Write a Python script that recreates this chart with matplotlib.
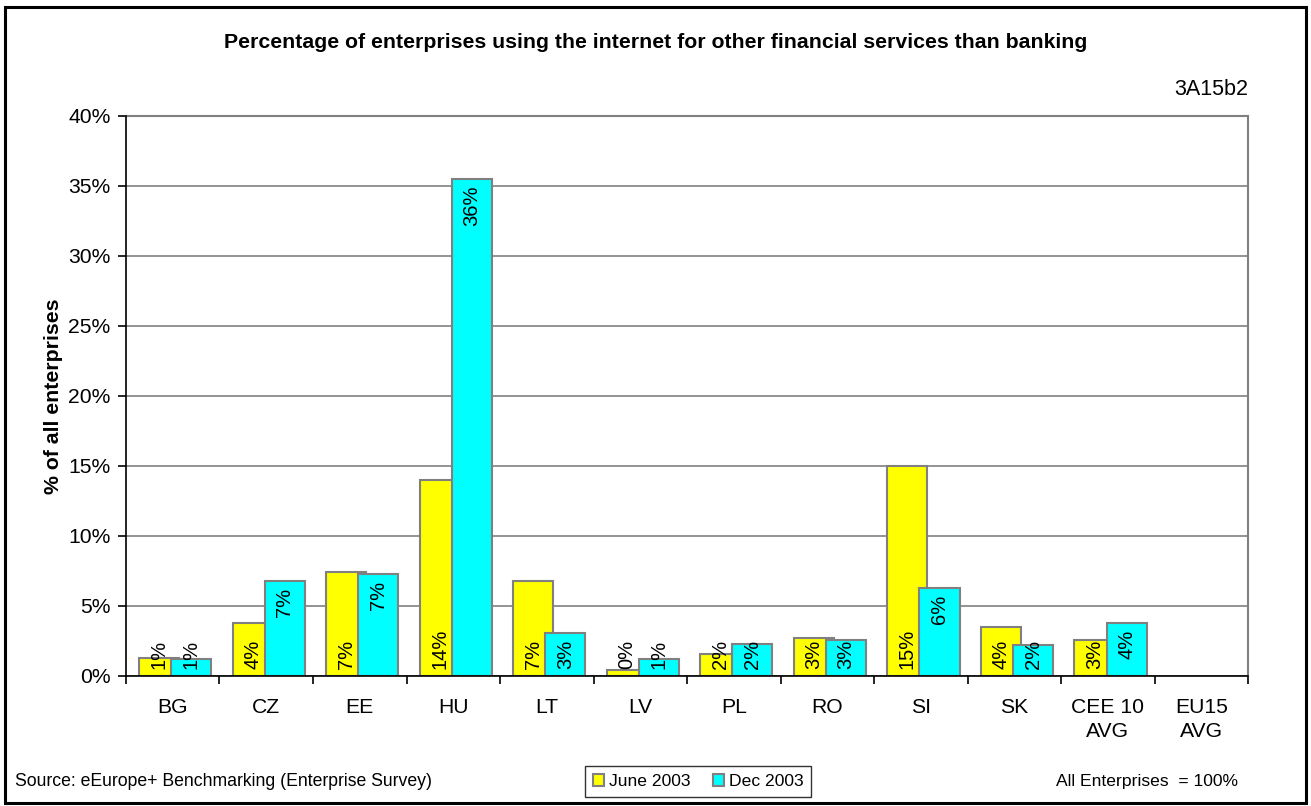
import numpy as np
import matplotlib.pyplot as plt
from matplotlib.patches import Rectangle

plt.rcParams['font.family'] = ['Liberation Sans', 'DejaVu Sans']

# ---------- datos ----------
paises = ['BG', 'CZ', 'EE', 'HU', 'LT', 'LV', 'PL', 'RO', 'SI', 'SK',
          'CEE 10\nAVG', 'EU15\nAVG']
junio_2003 = [1.3, 3.8, 7.4, 14.0, 6.8, 0.4, 1.6, 2.7, 15.0, 3.5, 2.6, np.nan]
dic_2003 = [1.2, 6.8, 7.3, 35.5, 3.1, 1.2, 2.3, 2.55, 6.3, 2.2, 3.8, np.nan]
y_ticks = [0, 5, 10, 15, 20, 25, 30, 35, 40]

amarillo = '#ffff00'
cian = '#00ffff'
gris = '#808080'

# ---------- figura ----------
fig = plt.figure(figsize=(13.11, 8.06), dpi=100)
ax = fig.add_axes([0.0961, 0.1613, 0.8559, 0.6948])

x = np.arange(len(paises))
ancho = 0.428
b1 = ax.bar(x - 0.145, junio_2003, ancho, color=amarillo, edgecolor=gris,
            linewidth=1.5, zorder=3, label='June 2003')
b2 = ax.bar(x + 0.20, dic_2003, ancho, color=cian, edgecolor=gris,
            linewidth=1.5, zorder=4, label='Dec 2003')

ax.set_xlim(-0.5, len(paises) - 0.5)
ax.set_ylim(0, 40)
ax.set_yticks(y_ticks)
ax.set_yticklabels([f'{t}%' for t in y_ticks], fontsize=15.2)
ax.yaxis.grid(True, color=gris, linewidth=1.2, zorder=0)

# ticks del eje x entre categorias, etiquetas en el centro
ax.set_xticks(np.arange(len(paises) + 1) - 0.5)
ax.set_xticklabels([])
ax.set_xticks(x, minor=True)
ax.set_xticklabels(paises, minor=True, fontsize=15.2, linespacing=1.3)
ax.tick_params(axis='x', which='minor', length=0, pad=16)
ax.tick_params(axis='x', which='major', length=6, width=1.2, direction='out')
ax.tick_params(axis='y', length=6, width=1.2, direction='out', pad=5)

for lado in ['top', 'right']:
    ax.spines[lado].set_color(gris)
    ax.spines[lado].set_linewidth(1.5)
for lado in ['left', 'bottom']:
    ax.spines[lado].set_color('black')
    ax.spines[lado].set_linewidth(1.2)
    ax.spines[lado].set_zorder(5)

ax.set_ylabel('% of all enterprises', fontsize=15.3, fontweight='bold', labelpad=4)

# ---------- etiquetas de valores ----------
px_por_unidad = ax.get_position().height * fig.get_figheight() * fig.dpi / 40
alto_texto = 27
margen = 7
tam = 14.5
for xi, v in zip(x - 0.145, junio_2003):
    if np.isnan(v):
        continue
    ax.annotate(f'{v:.0f}%', (xi, 0), xytext=(0, margen * 0.72),
                textcoords='offset points', rotation=90, ha='center',
                va='bottom', fontsize=tam, zorder=6)
for xi, v in zip(x + 0.20, dic_2003):
    if np.isnan(v):
        continue
    if v * px_por_unidad - margen - alto_texto >= margen:
        ax.annotate(f'{v:.0f}%', (xi, v), xytext=(0, -margen * 0.72),
                    textcoords='offset points', rotation=90, ha='center',
                    va='top', fontsize=tam, zorder=6)
    else:
        ax.annotate(f'{v:.0f}%', (xi, 0), xytext=(0, margen * 0.72),
                    textcoords='offset points', rotation=90, ha='center',
                    va='bottom', fontsize=tam, zorder=6)

# ---------- textos ----------
fig.text(0.5, 0.947, 'Percentage of enterprises using the internet for other financial services than banking',
         ha='center', va='center', fontsize=15.3, fontweight='bold')
fig.text(0.952, 0.889, '3A15b2', ha='right', va='center', fontsize=15.5)
fig.text(0.0115, 0.030, 'Source: eEurope+ Benchmarking (Enterprise Survey)',
         ha='left', va='center', fontsize=12.7)
fig.text(0.944, 0.030, 'All Enterprises  = 100%', ha='right', va='center', fontsize=12.6)

ley = fig.legend(handles=[b1, b2], loc='center', bbox_to_anchor=(0.5325, 0.030),
                 ncol=2, fontsize=12.6, frameon=True, fancybox=False,
                 handlelength=0.65, handleheight=0.65, handletextpad=0.25,
                 columnspacing=1.3, borderpad=0.45)
ley.get_frame().set_edgecolor('black')
ley.get_frame().set_linewidth(1.0)

# marco exterior
fig.patches.append(Rectangle((0.0035, 0.004), 0.9925, 0.9875, transform=fig.transFigure,
                             fill=False, edgecolor='black', linewidth=2.2))

fig.savefig('out.png', dpi=100)
